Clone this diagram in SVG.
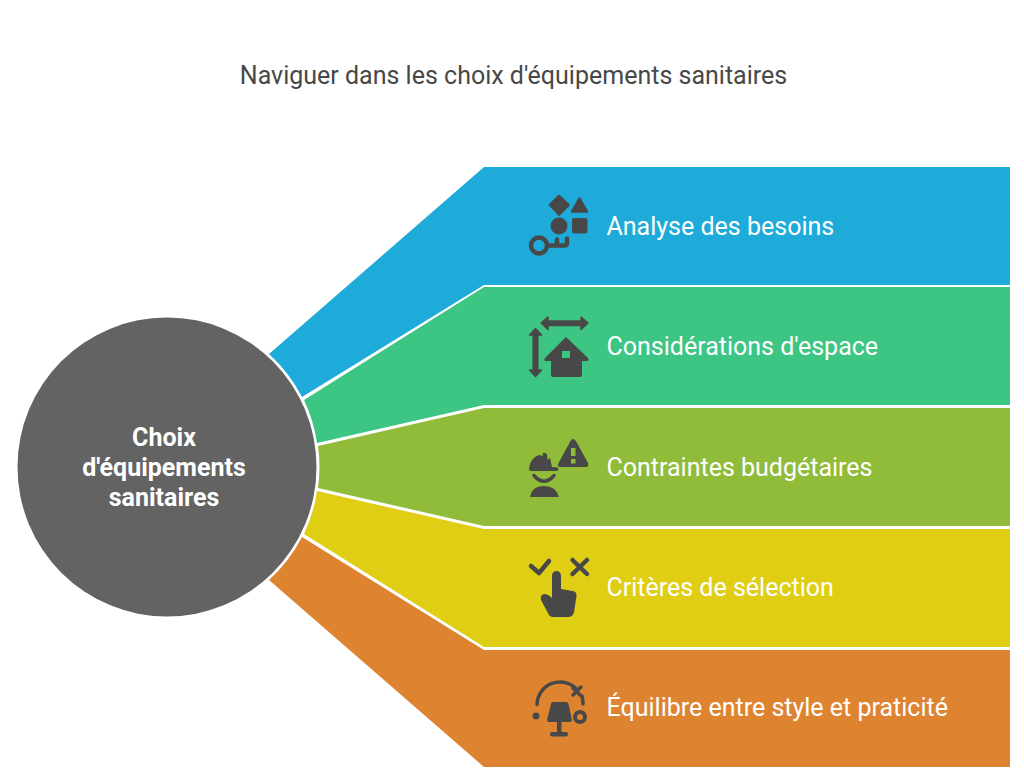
<svg xmlns="http://www.w3.org/2000/svg" width="1024" height="782" viewBox="0 0 1024 782">
<style>
.t{font-family:Roboto,"Liberation Sans",sans-serif;font-size:25px;fill:#fff;font-weight:400}
.c{font-family:Roboto,"Liberation Sans",sans-serif;font-size:25px;fill:#fff;font-weight:700;text-anchor:middle}
.h{font-family:Roboto,"Liberation Sans",sans-serif;font-size:25px;fill:#484848;text-anchor:middle}
.i{fill:#484848}
.b{fill:#484848;stroke:#484848;stroke-linejoin:round}
.s{fill:none;stroke:#484848;stroke-linecap:round;stroke-linejoin:round}
</style>
<rect width="1024" height="782" fill="#fff"/>
<text class="h" x="513.500" y="84">Naviguer dans les choix d'équipements sanitaires</text>
<g id="connectors">
<path fill="#1eabda" d="M269 354L484 167H1010V285H484L302 397A152 152 0 0 0 269 354Z"/>
<path fill="#3cc583" d="M304 400L484 287H1010V405H484L317 443A152 152 0 0 0 304 400Z"/>
<path fill="#91bc3a" d="M318 446L484 408H1010V526H484L318 488A152 152 0 0 0 318 446Z"/>
<path fill="#dfce13" d="M317 491L484 529H1010V647H484L304 534A152 152 0 0 0 317 491Z"/>
<path fill="#de8431" d="M302 537L484 650H1010V767H484L269 580A152 152 0 0 0 302 537Z"/>
</g>
<g id="center">
<circle cx="167" cy="467" r="149.500" fill="#636363"/>
<text class="c" x="164" y="446">Choix</text>
<text class="c" x="164" y="476">d'équipements</text>
<text class="c" x="164" y="506">sanitaires</text>
</g>
<g id="node1">
<path class="b" d="M559 196L568.500 205L559 214.500L550 205Z" stroke-width="2.500"/>
<path class="b" d="M579.500 198.500L587 211.500H572Z" stroke-width="2.500"/>
<circle class="i" cx="559" cy="226" r="8.500"/>
<rect class="i" x="572" y="218" width="15.500" height="15.500" rx="2"/>
<circle class="s" cx="539" cy="245.500" r="8" stroke-width="4.500"/>
<path class="s" d="M548 245.500H564Q567 245.500 567 243V238.500M557 245V239.500" stroke-width="4.500"/>
<text class="t" x="606.500" y="235">Analyse des besoins</text>
</g>
<g id="node2">
<path class="b" d="M541 323L548 317V321H581V317L588 323L581 329.500V325.500H548V329.500Z" stroke-width="1.500"/>
<path class="b" d="M535.500 328.500L541.500 335H537.800V370H541.500L535.500 376.500L529.500 370H533.200V335H529.500Z" stroke-width="1.500"/>
<path class="i" fill-rule="evenodd" d="M566 337L588 358Q590 361 586 361H582V375Q582 377 580 377H553Q551 377 551 375V361H546Q543 361 545 358ZM562 351V358H570V351Z"/>
<text class="t" x="606.500" y="355">Considérations d'espace</text>
</g>
<g id="node3">
<path class="i" fill-rule="evenodd" d="M573 439Q575 439 576.500 442L588 463Q589 467 586 467H560Q557 467 558.500 463L570 442Q571 439 573 439ZM571 448V456H575.500V448ZM571 459V463.500H575.500V459Z"/>
<path class="i" d="M529 469Q530 458 539 455L543 456L542.500 453.500Q545 451.500 547 454.500L547.500 460L550 458L552 467L558 467.500Q559 470 557 471H531Q529 471 529 469Z"/>
<path class="s" d="M534 475.500Q544 487 554 475.500" stroke-width="3.500"/>
<path class="i" d="M530 497Q532 486 544 486Q556 486 559 497Z"/>
<text class="t" x="606.500" y="476">Contraintes budgétaires</text>
</g>
<g id="node4">
<path class="s" d="M531 566L539 573L549 561" stroke-width="4.500"/>
<path class="s" d="M572.500 560L587 574M587 560L572.500 574" stroke-width="4.500"/>
<path class="i" d="M552 575.500A4.500 4.500 0 0 1 561 575.500V589L573 591Q577 592 576.500 596L574 612Q573 617 568 617H553Q550 617 549 615L541 600Q540 595 544 594Q548 594 552 598Z"/>
<text class="t" x="606.500" y="596">Critères de sélection</text>
</g>
<g id="node5">
<path class="s" d="M537 704.500A23 23 0 0 1 577 689.500M582 696Q583 700 583 704" stroke-width="3.500"/>
<path class="s" d="M573 695L581 687M573 688L580 695" stroke-width="3.500"/>
<circle class="i" cx="536" cy="716" r="3.500"/>
<circle class="s" cx="580" cy="717" r="5" stroke-width="4"/>
<path class="i" d="M553 702H566Q568 702 568.500 704L572 720Q572 722 570 722H549Q547 722 547 720L551 704Q551 702 553 702Z"/>
<rect class="i" x="557" y="720" width="4.500" height="14"/>
<rect class="i" x="550" y="732" width="18" height="4.500" rx="2"/>
<text class="t" x="606.500" y="716">Équilibre entre style et praticité</text>
</g>
</svg>
